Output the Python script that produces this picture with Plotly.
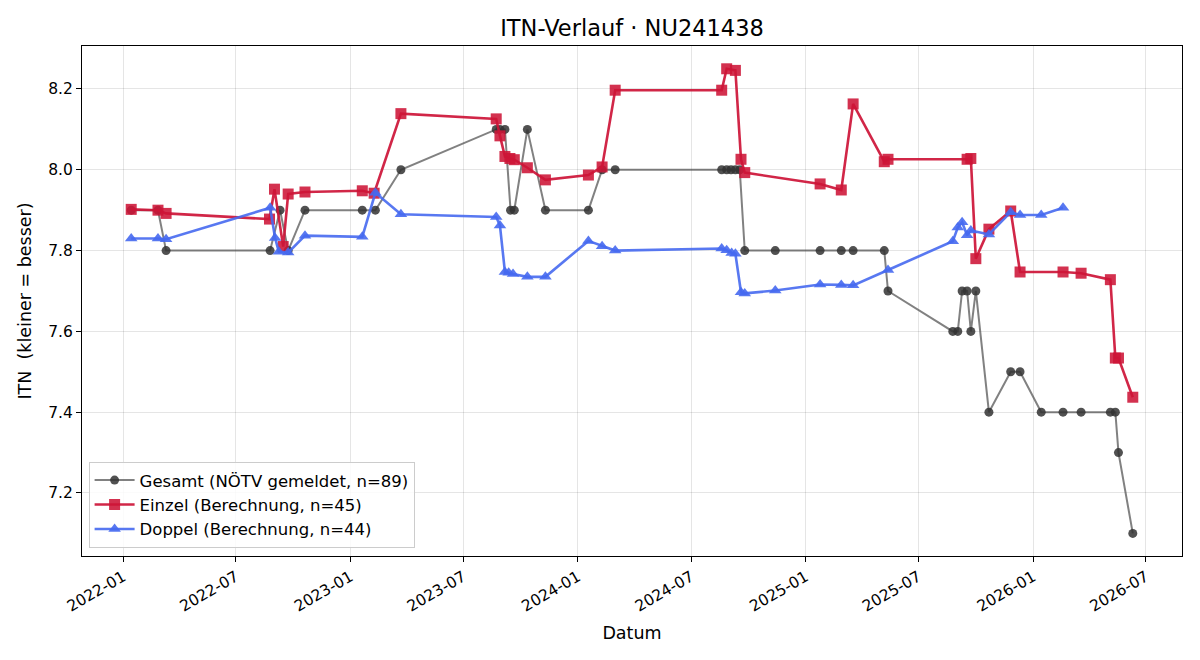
import plotly.graph_objects as go

# ---- data ----
gesamt_dates = ["2022-01-14", "2022-02-26", "2022-03-11", "2022-08-25", "2022-09-10", "2022-09-23",
                "2022-10-20", "2023-01-20", "2023-02-10", "2023-03-23", "2023-08-23", "2023-08-29",
                "2023-09-06", "2023-09-15", "2023-09-21", "2023-10-12", "2023-11-10", "2024-01-18",
                "2024-02-09", "2024-03-01", "2024-08-19", "2024-08-27", "2024-09-03", "2024-09-10",
                "2024-09-17", "2024-09-25", "2024-11-13", "2025-01-24", "2025-02-27", "2025-03-18",
                "2025-05-07", "2025-05-13", "2025-08-25", "2025-09-02", "2025-09-09", "2025-09-17",
                "2025-09-23", "2025-10-01", "2025-10-22", "2025-11-26", "2025-12-11", "2026-01-14",
                "2026-02-18", "2026-03-19", "2026-05-05", "2026-05-13", "2026-05-18", "2026-06-10"]
gesamt_values = [7.9, 7.9, 7.8, 7.8, 7.9, 7.8,
                 7.9, 7.9, 7.9, 8.0, 8.1, 8.1,
                 8.1, 7.9, 7.9, 8.1, 7.9, 7.9,
                 8.0, 8.0, 8.0, 8.0, 8.0, 8.0,
                 8.0, 7.8, 7.8, 7.8, 7.8, 7.8,
                 7.8, 7.7, 7.6, 7.6, 7.7, 7.7,
                 7.6, 7.7, 7.4, 7.5, 7.5, 7.4,
                 7.4, 7.4, 7.4, 7.4, 7.3, 7.1]

einzel_dates = ["2022-01-14", "2022-02-26", "2022-03-11", "2022-08-24", "2022-09-01", "2022-09-15",
                "2022-09-23", "2022-10-20", "2023-01-20", "2023-02-08", "2023-03-23", "2023-08-23",
                "2023-08-29", "2023-09-06", "2023-09-14", "2023-09-21", "2023-10-12", "2023-11-10",
                "2024-01-18", "2024-02-09", "2024-03-01", "2024-08-19", "2024-08-27", "2024-09-10",
                "2024-09-19", "2024-09-25", "2025-01-24", "2025-02-27", "2025-03-18", "2025-05-07",
                "2025-05-13", "2025-09-17", "2025-09-23", "2025-10-01", "2025-10-22", "2025-11-26",
                "2025-12-11", "2026-02-18", "2026-03-19", "2026-05-05", "2026-05-13", "2026-05-18",
                "2026-06-10"]
einzel_values = [7.902, 7.900, 7.892, 7.878, 7.952, 7.810,
                 7.940, 7.945, 7.948, 7.942, 8.139, 8.126,
                 8.084, 8.033, 8.028, 8.025, 8.005, 7.975,
                 7.987, 8.007, 8.197, 8.197, 8.250, 8.246,
                 8.026, 7.993, 7.965, 7.950, 8.163, 8.020,
                 8.026, 8.026, 8.028, 7.780, 7.853, 7.898,
                 7.747, 7.747, 7.744, 7.728, 7.534, 7.534,
                 7.437]

doppel_dates = ["2022-01-14", "2022-02-26", "2022-03-11", "2022-08-25", "2022-09-02", "2022-09-08",
                "2022-09-23", "2022-10-20", "2023-01-20", "2023-02-10", "2023-03-23", "2023-08-23",
                "2023-08-29", "2023-09-06", "2023-09-12", "2023-09-19", "2023-10-12", "2023-11-10",
                "2024-01-18", "2024-02-09", "2024-03-01", "2024-08-19", "2024-08-27", "2024-09-04",
                "2024-09-10", "2024-09-19", "2024-09-25", "2024-11-13", "2025-01-24", "2025-02-27",
                "2025-03-18", "2025-05-13", "2025-08-25", "2025-09-02", "2025-09-09", "2025-09-17",
                "2025-09-23", "2025-10-22", "2025-11-26", "2025-12-11", "2026-01-14", "2026-02-18"]
doppel_values = [7.830, 7.830, 7.828, 7.906, 7.831, 7.797,
                 7.795, 7.837, 7.834, 7.943, 7.890, 7.883,
                 7.862, 7.747, 7.745, 7.742, 7.735, 7.735,
                 7.824, 7.811, 7.800, 7.805, 7.801, 7.794,
                 7.792, 7.697, 7.694, 7.701, 7.716, 7.715,
                 7.714, 7.752, 7.823, 7.857, 7.870, 7.838,
                 7.850, 7.840, 7.895, 7.888, 7.888, 7.906]

tick_vals = ["2022-01-01", "2022-07-01", "2023-01-01", "2023-07-01", "2024-01-01",
             "2024-07-01", "2025-01-01", "2025-07-01", "2026-01-01", "2026-07-01"]
tick_text = ["2022-01", "2022-07", "2023-01", "2023-07", "2024-01",
             "2024-07", "2025-01", "2025-07", "2026-01", "2026-07"]

FONT = "DejaVu Sans"

fig = go.Figure()
fig.add_trace(go.Scatter(
    x=gesamt_dates, y=gesamt_values, mode="lines+markers",
    name="Gesamt (NÖTV gemeldet, n=89)",
    line=dict(color="rgba(70,70,70,0.68)", width=2),
    marker=dict(symbol="circle", size=9, color="rgba(50,50,50,0.85)",
                line=dict(width=0)),
))
fig.add_trace(go.Scatter(
    x=einzel_dates, y=einzel_values, mode="lines+markers",
    name="Einzel (Berechnung, n=45)",
    line=dict(color="rgba(205,20,55,0.92)", width=2.6),
    marker=dict(symbol="square", size=11, color="rgba(205,20,55,0.88)",
                line=dict(width=0)),
))
fig.add_trace(go.Scatter(
    x=doppel_dates, y=doppel_values, mode="lines+markers",
    name="Doppel (Berechnung, n=44)",
    line=dict(color="rgba(70,105,240,0.9)", width=2.6),
    marker=dict(symbol="triangle-up", size=11, color="rgba(70,105,240,0.9)",
                line=dict(width=0)),
))

fig.update_layout(
    width=1200, height=660,
    margin=dict(l=82, r=18, t=46, b=104),
    paper_bgcolor="white", plot_bgcolor="white",
    font=dict(family=FONT, size=15, color="black"),
    title=dict(text="ITN-Verlauf · NU241438", x=0.5, xref="paper", xanchor="center",
               y=0.958, yanchor="middle", font=dict(family=FONT, size=22.5)),
    showlegend=True,
    legend=dict(x=0.006, y=0.016, xanchor="left", yanchor="bottom",
                bgcolor="rgba(255,255,255,0.85)", bordercolor="#cccccc", borderwidth=1,
                font=dict(family=FONT, size=16.5), tracegroupgap=0, itemwidth=40),
)
fig.update_xaxes(
    type="date", range=["2021-10-27", "2026-08-28"],
    tickvals=tick_vals, ticktext=tick_text, tickangle=-30,
    showgrid=True, gridcolor="rgba(0,0,0,0.1)", gridwidth=1,
    showline=True, linecolor="black", linewidth=1, mirror=True,
    ticks="outside", ticklen=5, tickcolor="black",
    tickfont=dict(family=FONT, size=15.5),
    title=dict(text="Datum", font=dict(family=FONT, size=17.5), standoff=12),
    zeroline=False, automargin=False,
)
fig.update_yaxes(
    range=[7.044, 8.3064], dtick=0.2, tick0=7.2, tickformat=".1f",
    showgrid=True, gridcolor="rgba(0,0,0,0.1)", gridwidth=1,
    showline=True, linecolor="black", linewidth=1, mirror=True,
    ticks="outside", ticklen=5, tickcolor="black",
    tickfont=dict(family=FONT, size=15.5),
    title=dict(text="ITN  (kleiner = besser)", font=dict(family=FONT, size=17.5), standoff=12),
    zeroline=False, automargin=False,
)

fig.write_html("out.html")
